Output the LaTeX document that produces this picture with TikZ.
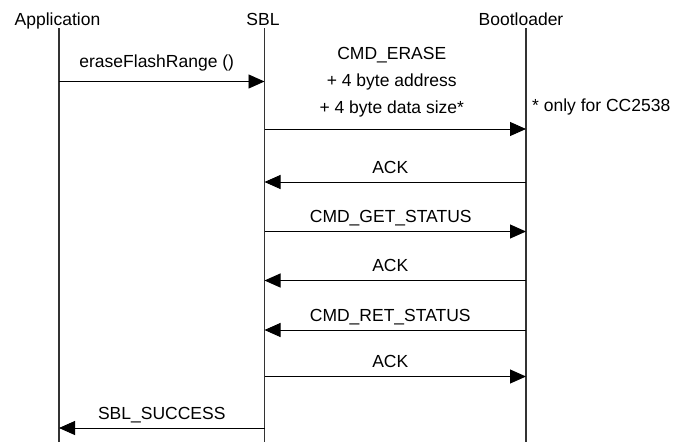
\documentclass[tikz,border=0pt]{standalone}
\usepackage{fontspec}
\setmainfont{Liberation Sans}
\usetikzlibrary{arrows.meta}

\begin{document}
\begin{tikzpicture}[x=1pt,y=-1pt]
\tikzstyle{every node}+=[inner sep=0pt, font=\fontsize{17.5}{27}\selectfont]
\tikzstyle{lifeline}=[black!80, line width=1.2pt]
\tikzstyle{msg}=[black, line width=0.9pt, -{Triangle[length=16pt,width=14pt]}]
\tikzstyle{msglabel}=[text depth=0pt]
\useasboundingbox (0,0) rectangle (683,442);
% lifelines
\coordinate (app-top) at (59,28);
\coordinate (app-bot) at (59,442);
\coordinate (sbl-top) at (264.5,28);
\coordinate (sbl-bot) at (264.5,442);
\coordinate (boot-top) at (526,28);
\coordinate (boot-bot) at (526,442);
\node [anchor=base] (app) at (57.5,25) {Application};
\node [anchor=base] (sbl) at (263,25) {SBL};
\node [anchor=base] (boot) at (521,25) {Bootloader};
\draw [lifeline] (app-top) -- (app-bot);
\draw [lifeline] (sbl-top) -- (sbl-bot);
\draw [lifeline] (boot-top) -- (boot-bot);
% message levels
\coordinate (y1) at (0,81.5);
\coordinate (y2) at (0,129);
\coordinate (y3) at (0,182);
\coordinate (y4) at (0,231.5);
\coordinate (y5) at (0,280.5);
\coordinate (y6) at (0,330);
\coordinate (y7) at (0,376.5);
\coordinate (y8) at (0,428);
% messages
\draw [msg] (app-top |- y1) -- node [msglabel, above=13.5pt, xshift=-5pt] (erase) {eraseFlashRange ()} (sbl-top |- y1);
\draw [msg] (sbl-top |- y2) -- node [msglabel, above=15.5pt, xshift=-3.5pt, align=center] (cmd-erase) {CMD\_ERASE\\+ 4 byte address\\+ 4 byte data size*} (boot-top |- y2);
\node [anchor=base west] (note) at ([xshift=6pt, yshift=18pt]boot-top |- y2) {* only for CC2538};
\draw [msg] (boot-top |- y3) -- node [msglabel, above=8.5pt, xshift=-5pt] (ack1) {ACK} (sbl-top |- y3);
\draw [msg] (sbl-top |- y4) -- node [msglabel, above=8.5pt, xshift=-4.5pt] (get-status) {CMD\_GET\_STATUS} (boot-top |- y4);
\draw [msg] (boot-top |- y5) -- node [msglabel, above=8.5pt, xshift=-5pt] (ack2) {ACK} (sbl-top |- y5);
\draw [msg] (boot-top |- y6) -- node [msglabel, above=8.5pt, xshift=-5pt] (ret-status) {CMD\_RET\_STATUS} (sbl-top |- y6);
\draw [msg] (sbl-top |- y7) -- node [msglabel, above=8.5pt, xshift=-5pt] (ack3) {ACK} (boot-top |- y7);
\draw [msg] (sbl-top |- y8) -- node [msglabel, above=8.5pt] (success) {SBL\_SUCCESS} (app-top |- y8);
\end{tikzpicture}
\end{document}
